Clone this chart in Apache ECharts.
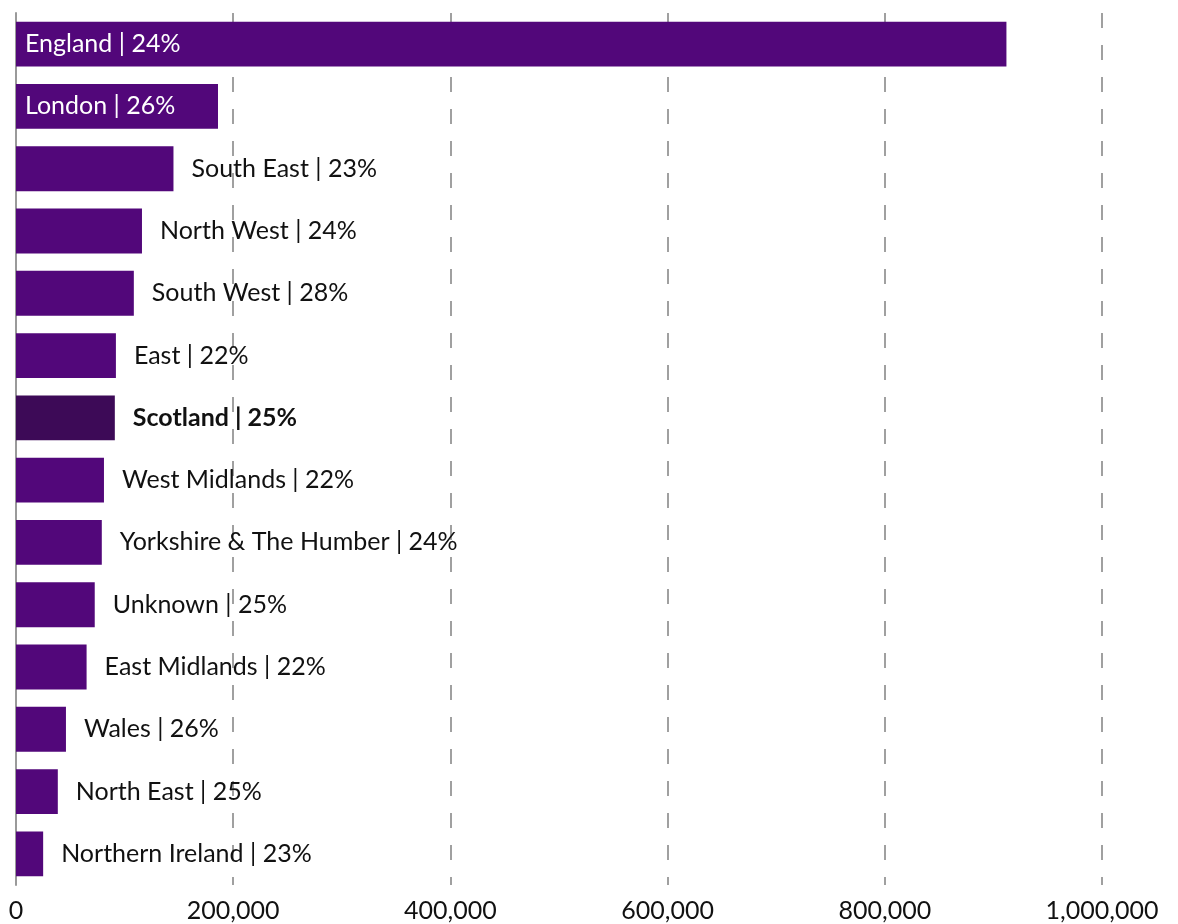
<!DOCTYPE html>
<html><head><meta charset="utf-8">
<script src="https://cdn.jsdelivr.net/npm/echarts@6/dist/echarts.min.js"></script>
<style>html,body{margin:0;padding:0;background:#fff}#c{width:1178px;height:924px}</style>
</head><body><div id="c"></div>
<script>
const regions = ['England','London','South East','North West','South West','East','Scotland','West Midlands','Yorkshire & The Humber','Unknown','East Midlands','Wales','North East','Northern Ireland'];
const values = [912000,186000,145000,116000,108500,92000,91000,81000,79000,72500,65000,46000,38500,25000];
const percents = ['24%','26%','23%','24%','28%','22%','25%','22%','24%','25%','22%','26%','25%','23%'];
const insideLabels = ['England','London'];
const highlight = 'Scotland';
const xTicks = [0,200000,400000,600000,800000,1000000];

const FONT = 'Lato';
const data = regions.map((r,i)=>{
  const inside = insideLabels.includes(r);
  const hl = r===highlight;
  return {
    value: values[i],
    itemStyle: {color: hl ? '#3d0a57' : '#52077a'},
    label: {
      show: true,
      position: inside ? 'insideLeft' : 'right',
      distance: inside ? 9 : 18,
      color: inside ? '#ffffff' : '#111111',
      fontWeight: hl ? 'bold' : 'normal',
      formatter: r + ' | ' + percents[i]
    }
  };
});

const chart = echarts.init(document.getElementById('c'));
chart.setOption({
  animation:false,
  textStyle:{fontFamily:FONT},
  grid:{left:16,right:76,top:13,bottom:39,containLabel:false},
  xAxis:{
    type:'value',min:0,max:1000000,interval:200000,
    axisLine:{show:false},axisTick:{show:false},
    axisLabel:{fontSize:25,color:'#111',fontFamily:FONT,margin:13,
      formatter:v=>xTicks.includes(v)? v.toLocaleString('en-US') : ''},
    splitLine:{show:true,lineStyle:{color:'#a0a0a0',width:2,type:[15,17]}}
  },
  yAxis:{
    type:'category',data:regions,inverse:true,
    axisLine:{show:true,lineStyle:{color:'#9a9a9a',width:2}},
    axisTick:{show:false},axisLabel:{show:false}
  },
  series:[{
    type:'bar',data:data,barCategoryGap:'28%',
    label:{fontSize:25,fontFamily:FONT},
    z:2
  }]
});
</script></body></html>
